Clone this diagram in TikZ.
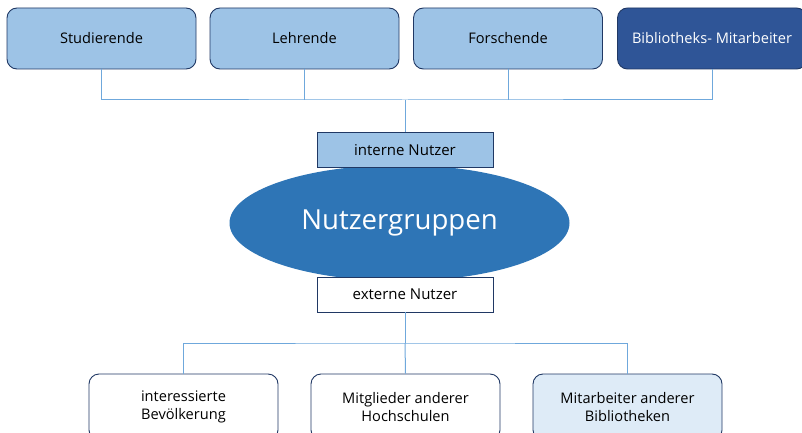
\documentclass[tikz,border=0pt]{standalone}
\usepackage{fontspec}
\setmainfont{Open Sans}
\usetikzlibrary{shapes.geometric}
\definecolor{lightfill}{HTML}{9DC3E6}
\definecolor{navyline}{HTML}{203864}
\definecolor{darkfill}{HTML}{2F5597}
\definecolor{ellfill}{HTML}{2E75B6}
\definecolor{connline}{HTML}{6FA8DC}
\definecolor{palefill}{HTML}{DEEBF7}
\tikzset{
  topbox/.style={draw=navyline, line width=0.9pt, rounded corners=10pt, fill=lightfill,
    minimum width=189pt, minimum height=61pt, inner sep=0pt, font=\fontsize{14.6}{17}\selectfont, text=black},
  topdark/.style={topbox, fill=darkfill, text=white},
  midbox/.style={draw=navyline, line width=0.9pt, minimum width=176pt, minimum height=35pt,
    inner sep=0pt, font=\fontsize{15}{17}\selectfont},
  botbox/.style={draw=navyline, line width=0.9pt, rounded corners=10pt, fill=white,
    minimum width=189pt, minimum height=66pt, inner sep=0pt, align=center,
    font=\fontsize{14.6}{18}\selectfont},
  conn/.style={draw=connline, line width=1pt},
}
\begin{document}
\begin{tikzpicture}[x=1pt,y=-1pt]
\useasboundingbox (0,0) rectangle (802,433);
\clip (0,0) rectangle (802,433);
\fill[white] (0,0) rectangle (802,433);
% top
\node[topbox] (stud) at (101.5,38.5) {Studierende};
\node[topbox] (lehr) at (304.5,38.5) {Lehrende};
\node[topbox] (forsch) at (508,38.5) {Forschende};
\node[topdark] (bib) at (712,38.5) {Bibliotheks- Mitarbeiter};
\coordinate (hubT) at (405,100);
\draw[conn] (stud.south) |- (hubT) -| (bib.south);
\draw[conn] (lehr.south) -- (lehr.south |- hubT);
\draw[conn] (forsch.south) -- (forsch.south |- hubT);
% ellipse
\node[ellipse, fill=ellfill, minimum width=340pt, minimum height=116pt, inner sep=0pt,
  text=white, font=\fontsize{27.6}{32}\selectfont] (nutz) at (399.5,223) {Nutzergruppen};
\node[midbox, fill=lightfill] (intern) at (405,150) {interne Nutzer};
\node[midbox, fill=white] (extern) at (405,294.5) {externe Nutzer};
\draw[conn] (hubT) -- (intern.north);
% bottom
\node[botbox] (bev) at (183.5,407) {interessierte\\Bevölkerung};
\node[botbox] (hoch) at (405.5,407) {Mitglieder anderer\\Hochschulen};
\node[botbox, fill=palefill] (bibl) at (627.5,407) {Mitarbeiter anderer\\Bibliotheken};
\coordinate (hubB) at (405,343);
\draw[conn] (extern.south) -- (hubB);
\draw[conn] (bev.north) |- (hubB) -| (bibl.north);
\draw[conn] (hubB) -- (hoch.north);
\end{tikzpicture}
\end{document}
